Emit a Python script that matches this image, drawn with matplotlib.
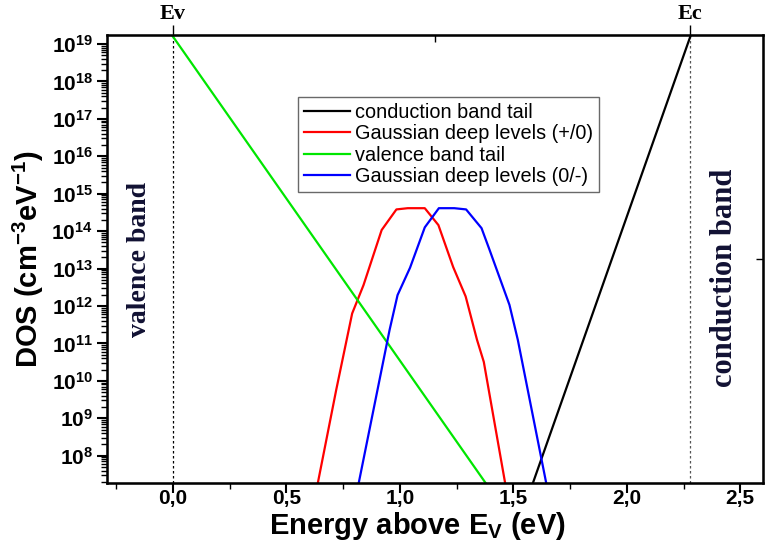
import matplotlib
matplotlib.use("Agg")
import matplotlib.pyplot as plt
from matplotlib.ticker import FixedLocator, NullLocator, LogLocator, NullFormatter

plt.rcParams['mathtext.fontset'] = 'custom'
plt.rcParams['mathtext.rm'] = 'Liberation Sans'
plt.rcParams['mathtext.bf'] = 'Liberation Sans:bold'
plt.rcParams['font.family'] = ['Liberation Sans', 'DejaVu Sans']

# band edges (eV above Ev)
E_v = 0.0
E_c = 2.28

# band tails: end points of the exponential tails (log scale -> straight lines)
vb_tail_E = [0.0, 1.40]
vb_tail_dos = [1.6e19, 1.2e7]
cb_tail_E = [1.55, 2.28]
cb_tail_dos = [4.4e6, 1.6e19]

# Gaussian deep levels (+/0)
donor_E = [0.63, 0.72, 0.79, 0.84, 0.92, 0.985, 1.035, 1.11, 1.17, 1.235, 1.29, 1.34, 1.37, 1.47]
donor_dos = [1.0e7, 5.8e9, 6.3e11, 3.6e12, 1.07e14, 3.8e14, 4.1e14, 4.1e14, 1.45e14,
             1.1e13, 1.8e12, 1.25e11, 3.2e10, 1.15e7]

# Gaussian deep levels (0/-)
acceptor_E = [0.81, 0.955, 0.99, 1.045, 1.11, 1.172, 1.24, 1.292, 1.36, 1.395, 1.483, 1.52, 1.65]
acceptor_dos = [1.0e7, 2.3e11, 1.95e12, 1.05e13, 1.26e14, 4.1e14, 4.1e14, 3.8e14, 1.2e14,
                3.2e13, 1.07e12, 1.23e11, 1.3e7]

xlim = (-0.29, 2.6)
ylim = (1.86e7, 1.74e19)
x_major = [0.0, 0.5, 1.0, 1.5, 2.0, 2.5]
x_labels = ['0,0', '0,5', '1,0', '1,5', '2,0', '2,5']
y_exponents = list(range(8, 20))

W, H = 765, 553
fig = plt.figure(figsize=(W / 100, H / 100), dpi=100)
ax = fig.add_axes([107 / W, 70 / H, 656 / W, 448 / H])

lw = 1.6
ax.plot(cb_tail_E, cb_tail_dos, color='black', lw=lw, label='conduction band tail')
ax.plot(donor_E, donor_dos, color='#ff0000', lw=lw, label='Gaussian deep levels (+/0)')
ax.plot(vb_tail_E, vb_tail_dos, color='#00e600', lw=lw, label='valence band tail')
ax.plot(acceptor_E, acceptor_dos, color='#0000ff', lw=lw, label='Gaussian deep levels (0/-)')

ax.axvline(E_v, color='black', lw=0.9, ls=(0, (2, 2)), zorder=1)
ax.axvline(E_c, color='#555555', lw=0.9, ls=(0, (2, 2)), zorder=1)

ax.set_yscale('log')
ax.set_xlim(*xlim)
ax.set_ylim(*ylim)

ax.xaxis.set_major_locator(FixedLocator(x_major))
ax.set_xticklabels(x_labels)
ax.xaxis.set_minor_locator(FixedLocator([-0.25, 0.25, 0.75, 1.25, 1.75, 2.25]))
ax.yaxis.set_major_locator(FixedLocator([10.0 ** e for e in y_exponents]))
ax.set_yticklabels([r'$\mathbf{10^{%d}}$' % e for e in y_exponents])
ax.yaxis.set_minor_locator(LogLocator(base=10, subs=range(2, 10), numticks=40))
ax.yaxis.set_minor_formatter(NullFormatter())

ax.tick_params(axis='both', which='major', direction='out', length=7, width=1.5,
               top=False, right=False)
ax.tick_params(axis='both', which='minor', direction='out', length=4, width=1.0,
               top=False, right=False)
ax.tick_params(axis='x', which='major', labelsize=15, pad=-3)
ax.tick_params(axis='y', which='major', labelsize=15, pad=3)
for lab in ax.get_xticklabels():
    lab.set_fontweight('bold')

for s in ax.spines.values():
    s.set_linewidth(1.8)

# top axis: band-edge markers
top = ax.twiny()
top.set_xlim(*xlim)
top.xaxis.set_major_locator(FixedLocator([E_v, E_c]))
top.set_xticklabels(['Ev', 'Ec'], fontfamily='Liberation Serif', fontweight='bold', fontsize=16)
top.xaxis.set_minor_locator(FixedLocator([sum(xlim) / 2]))
top.tick_params(which='major', direction='out', length=7, width=1.0, pad=1)
top.tick_params(which='minor', direction='in', length=5, width=1.0)

# right axis: single centre mark
right = ax.twinx()
right.set_yscale('log')
right.set_ylim(*ylim)
right.yaxis.set_major_locator(FixedLocator([(ylim[0] * ylim[1]) ** 0.5]))
right.yaxis.set_minor_locator(NullLocator())
right.set_yticklabels([''])
right.tick_params(which='major', direction='in', length=5, width=1.0)

fig.text(417 / W, 1 - 534 / H, r'Energy above E$_\mathbf{V}$ (eV)', fontsize=21,
         fontweight='bold', ha='center', va='baseline')
ax.set_ylabel(r'DOS (cm$^\mathbf{-3}$eV$^\mathbf{-1}$)', fontsize=21, fontweight='bold', labelpad=4)

ax.text(-0.145, 10 ** 13.25, 'valence band', rotation=90, ha='center', va='center',
        fontfamily='Liberation Serif', fontweight='bold', fontsize=20, color='#111133')
ax.text(2.43, 10 ** 12.75, 'conduction band', rotation=90, ha='center', va='center',
        fontfamily='Liberation Serif', fontweight='bold', fontsize=22, color='#111133')

leg = ax.legend(loc='upper left', bbox_to_anchor=((298 - 107) / 656, (483 - 97) / 448),
                fontsize=14.3, frameon=True, fancybox=False, handlelength=2.3,
                handletextpad=0.25, borderpad=0.3, borderaxespad=0, labelspacing=0.12)
leg.get_frame().set_edgecolor('#444444')
leg.get_frame().set_linewidth(1.0)

fig.savefig('out.png', dpi=100)
